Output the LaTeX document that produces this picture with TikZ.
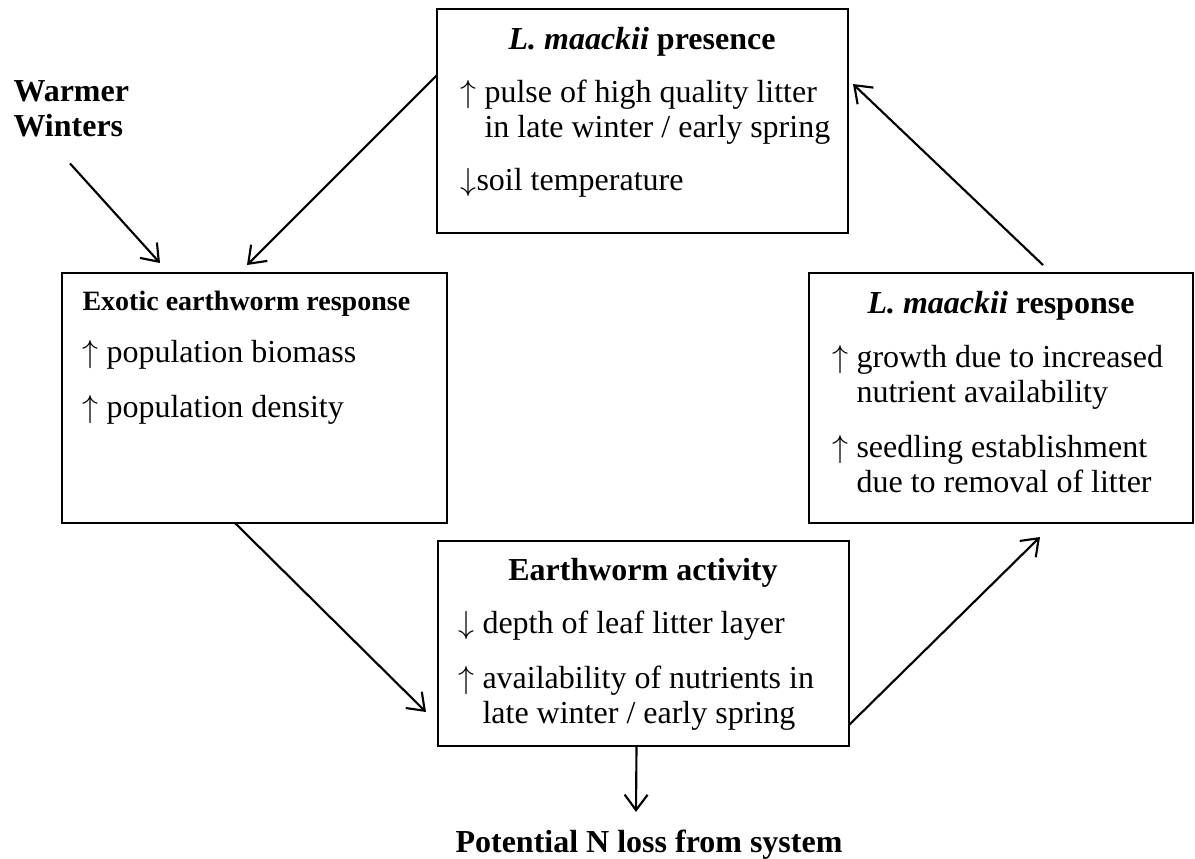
\documentclass[tikz,border=0pt]{standalone}
\usepackage{fontspec}
\setmainfont{Liberation Serif}
\usetikzlibrary{arrows.meta}
\usetikzlibrary{calc}
\tikzset{%
  cyclebox/.style={rectangle,draw,line width=0.8pt,inner sep=0pt,outer sep=0pt}
}
\tikzset{%
  boxhead/.style={anchor=base,inner sep=0pt,font=\fontsize{12}{13.1}\selectfont\bfseries},
  boxline/.style={anchor=base west,inner sep=0pt,font=\fontsize{12}{13.1}\selectfont}
}
\tikzset{%
  flow/.style={line width=0.8pt,-{Straight Barb[length=5.8pt,width=8.6pt]}}
}
\newcommand\hangsp{\hphantom{$\uparrow$ }}

\begin{document}
\begin{tikzpicture}[x=0.375pt,y=-0.375pt]
    \useasboundingbox (0,0) rectangle (1195,858);

    % the four boxes of the cycle
    \node[cyclebox,minimum width=154.125pt,minimum height=84pt](pres) at (642.5,121) {};
    \node[cyclebox,minimum width=144.375pt,minimum height=93.75pt](exo) at (254.5,398) {};
    \node[cyclebox,minimum width=154.125pt,minimum height=76.875pt](act) at (643.5,643.5) {};
    \node[cyclebox,minimum width=144pt,minimum height=93.75pt](resp) at (1001,398) {};

    \node[boxhead](prestitle) at (642,49) {\textit{L. maackii} presence};
    \node[boxline](pres1) at (460,102) {$\uparrow$ pulse of high quality litter};
    \node[boxline](pres1b) at (460,137) {\hangsp in late winter / early spring};
    \node[boxline](pres2) at (460,190) {$\downarrow$soil temperature};

    \node[boxhead,anchor=base west,font=\fontsize{10.5}{12}\selectfont\bfseries](exotitle) at (82,310) {Exotic earthworm response};
    \node[boxline](exo1) at (82,362) {$\uparrow$ population biomass};
    \node[boxline](exo2) at (82,417) {$\uparrow$ population density};

    \node[boxhead](acttitle) at (643,580) {Earthworm activity};
    \node[boxline](act1) at (458,633) {$\downarrow$ depth of leaf litter layer};
    \node[boxline](act2) at (458,688) {$\uparrow$ availability of nutrients in};
    \node[boxline](act2b) at (458,723) {\hangsp late winter / early spring};

    \node[boxhead](resptitle) at (1001,313) {\textit{L. maackii} response};
    \node[boxline](resp1) at (832,367) {$\uparrow$ growth due to increased};
    \node[boxline](resp1b) at (832,402) {\hangsp nutrient availability};
    \node[boxline](resp2) at (832,457) {$\uparrow$ seedling establishment};
    \node[boxline](resp2b) at (832,492) {\hangsp due to removal of litter};

    % outside labels
    \node[anchor=north west,align=left,inner sep=0pt,font=\fontsize{12}{13.1}\selectfont\bfseries](warm) at (13,80) {Warmer\\Winters};
    \node[boxhead](nloss) at (649,852) {Potential N loss from system};

    % arrows
    \draw[flow] ($(warm.south west)+(57,26)$) -- ($(exo.north west)+(98,-10)$);
    \draw[flow] ($(pres.north west)+(0,66)$) -- ($(exo.north west)+(185,-8)$);
    \draw[flow] ($(exo.south west)+(173,0)$) -- ($(act.north west)+(-12,171)$);
    \draw[flow] ($(act.north east)+(0,184)$) -- ($(resp.south west)+(231,14)$);
    \draw[flow] ($(resp.north west)+(234,-8)$) -- ($(pres.north east)+(5,75)$);
    \draw[flow] ($(act.south)+(-7,0)$) -- ($(nloss.north)+(-13,-17)$);
\end{tikzpicture}
\end{document}
